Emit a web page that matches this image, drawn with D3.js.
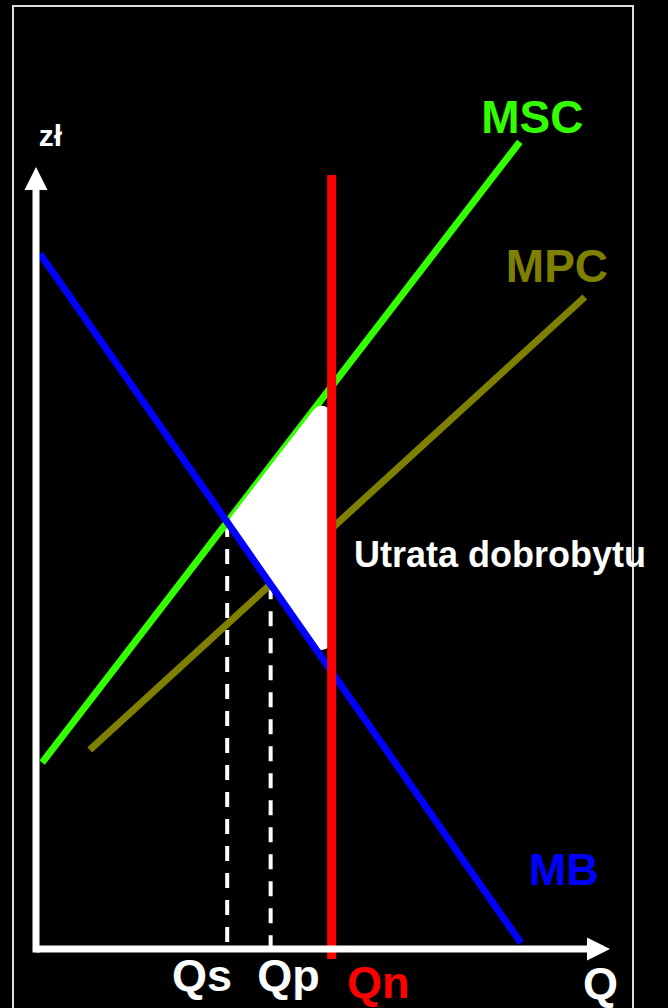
<!DOCTYPE html>
<html>
<head>
<meta charset="utf-8">
<script src="https://cdn.jsdelivr.net/npm/d3@7"></script>
<style>
  html, body { margin: 0; padding: 0; background: #000; }
  svg { display: block; }
  text { font-family: "Liberation Sans", Arial, sans-serif; font-weight: bold; }
</style>
</head>
<body>
<script>
var width = 668,
    height = 1008;

// curve endpoints, in chart units (Q, zł)
var mbLine  = [[0.07, 8.69], [8.66, 0.075]];
var mscLine = [[0.11, 2.33], [8.64, 10.09]];
var mpcLine = [[0.96, 2.49], [9.80, 8.15]];
var qn = 5.28;
var qnSpan = [-0.125, 9.675];
var axisEnds = {x: 10.25, y: 9.775};

// labels: text, x, y (chart units), color, size
var curveLabels = [
  ["MSC", 7.95, 10.2, "#33ff00", 46],
  ["MPC", 8.39, 8.34, "#808000", 46],
  ["MB", 8.80, 0.80, "#0000ff", 45],
  ["zł", 0.05, 10.04, "#ffffff", 30],
  ["Utrata dobrobytu", 5.68, 4.775, "#ffffff", 36]
];
var qLabels = [
  ["Qs", 2.43, -0.525, "#ffffff"],
  ["Qp", 3.95, -0.525, "#ffffff"],
  ["Qn", 5.555, -0.61, "#ff0000"],
  ["Q", 9.77, -0.62, "#ffffff"]
];

var x = d3.scaleLinear().domain([0, 10]).range([36, 596]);
var y = d3.scaleLinear().domain([0, 10]).range([949, 149]);

var svg = d3.select("body").append("svg")
    .attr("width", width)
    .attr("height", height);

svg.append("rect")
    .attr("width", width).attr("height", height)
    .attr("fill", "#000");

// frame
svg.append("rect")
    .attr("x", 13).attr("y", 6)
    .attr("width", 620).attr("height", 1030)
    .attr("fill", "none")
    .attr("stroke", "#dddddd")
    .attr("stroke-width", 2);

// line helpers
function lineAt(l, qx) {
  var a = l[0], b = l[1];
  return a[1] + (qx - a[0]) * (b[1] - a[1]) / (b[0] - a[0]);
}
function cross(l1, l2) {
  var s1 = (l1[1][1] - l1[0][1]) / (l1[1][0] - l1[0][0]),
      s2 = (l2[1][1] - l2[0][1]) / (l2[1][0] - l2[0][0]);
  var c1 = l1[0][1] - s1 * l1[0][0],
      c2 = l2[0][1] - s2 * l2[0][0];
  var qx = (c2 - c1) / (s1 - s2);
  return [qx, s1 * qx + c1];
}

var ps = cross(mbLine, mscLine),   // social optimum
    pp = cross(mbLine, mpcLine);   // private optimum

var path = d3.line()
    .x(function(d) { return x(d[0]); })
    .y(function(d) { return y(d[1]); });

// dashed drop lines
[ps, pp].forEach(function(p) {
  svg.append("path")
      .attr("d", path([[p[0], p[1]], [p[0], 0]]))
      .attr("stroke", "#fff")
      .attr("stroke-width", 4)
      .attr("stroke-dasharray", "15,12")
      .attr("fill", "none");
});

svg.append("path")
    .attr("d", path(mscLine))
    .attr("stroke", "#33ff00").attr("stroke-width", 7).attr("fill", "none");

svg.append("path")
    .attr("d", path(mpcLine))
    .attr("stroke", "#808000").attr("stroke-width", 7).attr("fill", "none");

// welfare loss triangle with rounded corners (shrunk about incenter, then stroked)
var tri = [ps, [qn, lineAt(mscLine, qn)], [qn, lineAt(mbLine, qn)]].map(function(p) {
  return [x(p[0]), y(p[1])];
});
var la = Math.hypot(tri[1][0] - tri[2][0], tri[1][1] - tri[2][1]),
    lb = Math.hypot(tri[0][0] - tri[2][0], tri[0][1] - tri[2][1]),
    lc = Math.hypot(tri[0][0] - tri[1][0], tri[0][1] - tri[1][1]),
    per = la + lb + lc;
var inc = [(la * tri[0][0] + lb * tri[1][0] + lc * tri[2][0]) / per,
           (la * tri[0][1] + lb * tri[1][1] + lc * tri[2][1]) / per];
var area = Math.abs((tri[1][0] - tri[0][0]) * (tri[2][1] - tri[0][1]) -
                    (tri[2][0] - tri[0][0]) * (tri[1][1] - tri[0][1])) / 2;
var rho = 2 * area / per, r = 10, k = (rho - r) / rho;
var inner = tri.map(function(p) {
  return [inc[0] + (p[0] - inc[0]) * k, inc[1] + (p[1] - inc[1]) * k];
});
svg.append("polygon")
    .attr("points", inner.map(function(p) { return p.join(","); }).join(" "))
    .attr("fill", "#fff")
    .attr("stroke", "#fff")
    .attr("stroke-width", 2 * r)
    .attr("stroke-linejoin", "round");

svg.append("path")
    .attr("d", path(mbLine))
    .attr("stroke", "#0000ff").attr("stroke-width", 7).attr("fill", "none");

// Qn vertical
svg.append("path")
    .attr("d", path([[qn, qnSpan[0]], [qn, qnSpan[1]]]))
    .attr("stroke", "#ff0000").attr("stroke-width", 9).attr("fill", "none");

// axes with arrows
svg.append("path")
    .attr("d", path([[0, 0], [0, axisEnds.y - 0.29]]))
    .attr("stroke", "#fff").attr("stroke-width", 7).attr("stroke-linecap", "square").attr("fill", "none");
svg.append("path")
    .attr("d", path([[0, 0], [axisEnds.x - 0.41, 0]]))
    .attr("stroke", "#fff").attr("stroke-width", 7).attr("fill", "none");

var tipY = [x(0), y(axisEnds.y)],
    tipX = [x(axisEnds.x), y(0)];
svg.append("polygon")
    .attr("points", [[tipY[0], tipY[1]], [tipY[0] - 11.5, tipY[1] + 23], [tipY[0] + 11.5, tipY[1] + 23]].join(" "))
    .attr("fill", "#fff");
svg.append("polygon")
    .attr("points", [[tipX[0], tipX[1]], [tipX[0] - 23, tipX[1] - 11.5], [tipX[0] - 23, tipX[1] + 11.5]].join(" "))
    .attr("fill", "#fff");

// labels
svg.selectAll("text.curve")
  .data(curveLabels)
  .enter().append("text")
    .attr("class", "curve")
    .attr("x", function(d) { return x(d[1]); })
    .attr("y", function(d) { return y(d[2]); })
    .attr("fill", function(d) { return d[3]; })
    .attr("font-size", function(d) { return d[4]; })
    .text(function(d) { return d[0]; });

svg.selectAll("text.q")
  .data(qLabels)
  .enter().append("text")
    .attr("class", "q")
    .attr("x", function(d) { return x(d[1]); })
    .attr("y", function(d) { return y(d[2]); })
    .attr("fill", function(d) { return d[3]; })
    .attr("font-size", 45)
    .text(function(d) { return d[0]; });
</script>
</body>
</html>
